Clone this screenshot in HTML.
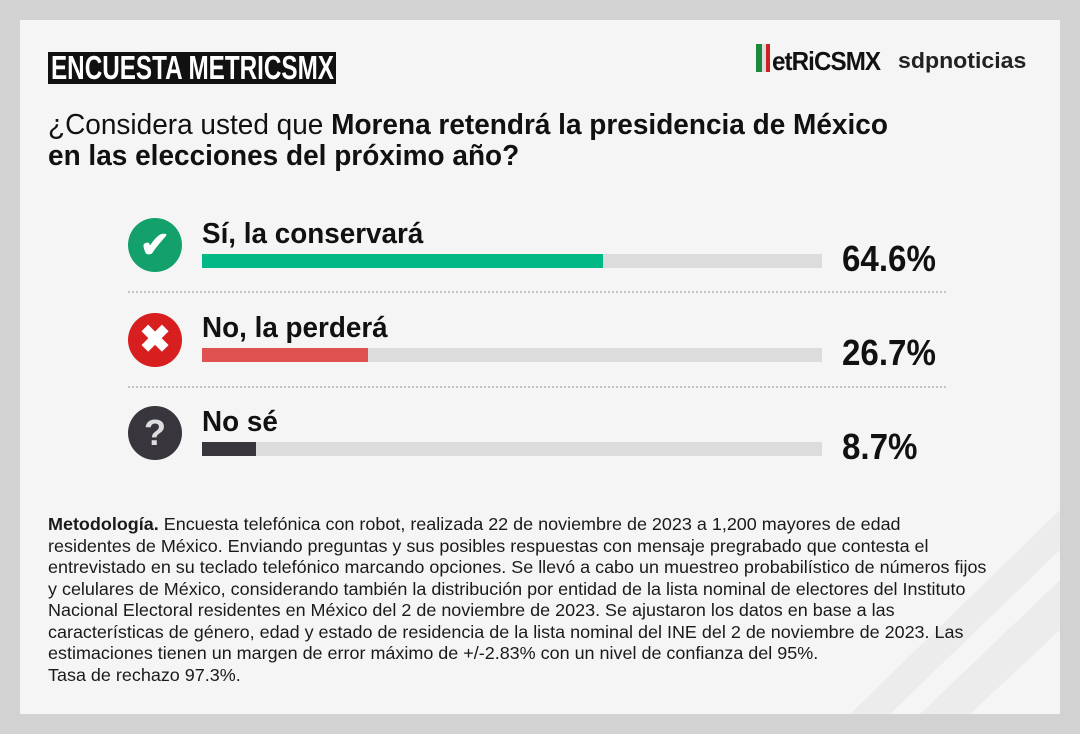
<!DOCTYPE html>
<html><head><meta charset="utf-8"><style>
*{margin:0;padding:0}
body{width:1080px;height:734px;background:#d2d2d2;position:relative;overflow:hidden;font-family:"Liberation Sans",Arial,sans-serif;color:#111}
.card{position:absolute;left:20px;top:20px;width:1040px;height:694px;background:#f5f5f5;overflow:hidden}
.a{position:absolute;white-space:nowrap;transform-origin:left top}
.bar{position:absolute;left:202px;width:620px;height:14px;background:#dcdcdc}
.bar i{position:absolute;left:0;top:0;bottom:0}
.dot{position:absolute;left:128px;width:818px;border-top:2px dotted #c4c4c4}
.ic{position:absolute;left:128px;width:54px;height:54px;border-radius:50%;color:#fff;text-align:center}
.lab{font-weight:bold;font-size:29px;left:202px;transform:scaleX(0.96)}
.pct{font-weight:bold;font-size:36px;left:842px;transform:scaleX(0.92)}
.m{position:absolute;left:48px;top:514px;font-size:17.8px;line-height:21.5px;color:#1a1a1a;white-space:nowrap;transform:scaleX(1.01);transform-origin:left top}
</style></head><body>
<div class="card">
<svg style="position:absolute;left:0;top:0" width="1040" height="694"><polygon points="1040,490 1040,530 870,694 830,694" fill="#ececec"/><polygon points="1040,560 1040,610 950,694 900,694" fill="#ececec"/></svg>
</div>
<div class="a" style="left:48px;top:52px;width:288px;height:32px;background:#111"></div>
<div class="a" style="left:51px;top:50px;color:#fff;font-size:33px;font-weight:bold;line-height:36px;transform:scaleX(0.735)">ENCUESTA METRICSMX</div>
<div class="a" style="left:756px;top:44px;width:6px;height:28px;background:#1a8a3a"></div>
<div class="a" style="left:762px;top:44px;width:4px;height:28px;background:#ddd"></div>
<div class="a" style="left:766px;top:44px;width:4px;height:28px;background:#c22"></div>
<div class="a" style="left:772px;top:46px;font-size:26px;font-weight:bold;letter-spacing:-1px;transform:scaleX(0.93)">etRiCSMX</div>
<div class="a" style="left:898px;top:48px;font-size:22px;font-weight:bold;color:#222;transform:scaleX(1.05)">sdpnoticias</div>
<div class="a" style="left:48px;top:110px;font-size:29px;line-height:31px;transform:scaleX(0.965)">¿Considera usted que <b>Morena retendrá la presidencia de México</b><br><b>en las elecciones del próximo año?</b></div>

<div class="ic" style="top:218px;background:#13a06a;font-size:36px;line-height:54px;font-weight:bold">✔</div>
<div class="a lab" style="top:218px">Sí, la conservará</div>
<div class="bar" style="top:254px"><i style="width:401px;background:#00b985"></i></div>
<div class="a pct" style="top:238px">64.6%</div>
<div class="dot" style="top:291px"></div>

<div class="ic" style="top:313px;background:#d71f1f;font-size:38px;line-height:54px;font-weight:bold">✖</div>
<div class="a lab" style="top:312px">No, la perderá</div>
<div class="bar" style="top:348px"><i style="width:166px;background:#e05252"></i></div>
<div class="a pct" style="top:332px">26.7%</div>
<div class="dot" style="top:386px"></div>

<div class="ic" style="top:406px;background:#38363c;font-size:36px;line-height:54px;font-weight:bold;color:#ddd">?</div>
<div class="a lab" style="top:406px">No sé</div>
<div class="bar" style="top:442px"><i style="width:54px;background:#38363c"></i></div>
<div class="a pct" style="top:426px">8.7%</div>

<div class="m"><b>Metodología.</b> Encuesta telefónica con robot, realizada 22 de noviembre de 2023 a 1,200 mayores de edad<br>residentes de México. Enviando preguntas y sus posibles respuestas con mensaje pregrabado que contesta el<br>entrevistado en su teclado telefónico marcando opciones. Se llevó a cabo un muestreo probabilístico de números fijos<br>y celulares de México, considerando también la distribución por entidad de la lista nominal de electores del Instituto<br>Nacional Electoral residentes en México del 2 de noviembre de 2023. Se ajustaron los datos en base a las<br>características de género, edad y estado de residencia de la lista nominal del INE del 2 de noviembre de 2023. Las<br>estimaciones tienen un margen de error máximo de +/-2.83% con un nivel de confianza del 95%.<br>Tasa de rechazo 97.3%.</div>
</body></html>
